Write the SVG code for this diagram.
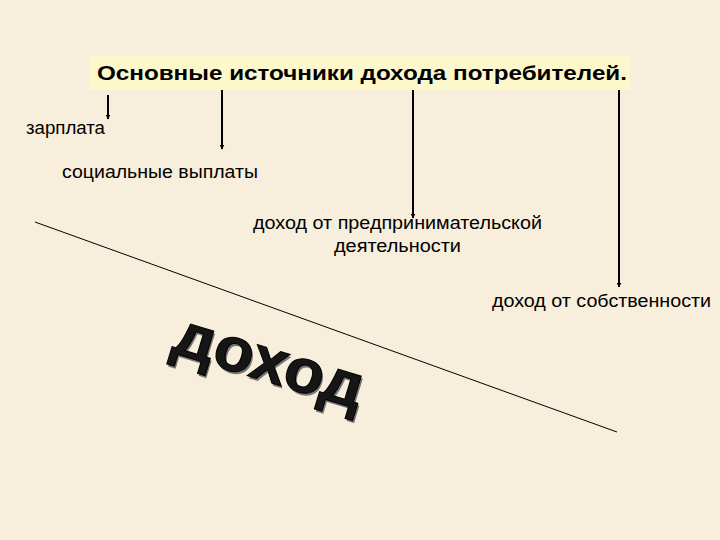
<svg xmlns="http://www.w3.org/2000/svg" width="720" height="540" viewBox="0 0 720 540">
<defs>
<style>
.t{font-family:"Liberation Sans",Arial,sans-serif;fill:#000;font-size:17.5px}
.title{font-weight:bold;font-size:20px}
.conn{stroke:#000;stroke-width:2;fill:none}
.big{font-family:"Liberation Sans",Arial,sans-serif;font-weight:bold;font-size:62px}
</style>
<marker id="ah" viewBox="0 0 10 10" refX="9" refY="5" markerWidth="5" markerHeight="5" orient="auto" markerUnits="userSpaceOnUse">
<path d="M0,0 L10,5 L0,10 z" fill="#000"/>
</marker>
</defs>
<rect x="0" y="0" width="720" height="540" fill="#F7EEDB"/>
<g id="title">
<rect x="90" y="56" width="540" height="34" fill="#FDF8CC"/>
<text class="t title" x="97" y="80" textLength="530" lengthAdjust="spacingAndGlyphs">Основные источники дохода потребителей.</text>
</g>
<g id="connectors">
<line class="conn" x1="108" y1="95" x2="108" y2="119" marker-end="url(#ah)"/>
<line class="conn" x1="222" y1="90" x2="222" y2="149" marker-end="url(#ah)"/>
<line class="conn" x1="413" y1="90" x2="413" y2="218" marker-end="url(#ah)"/>
<line class="conn" x1="619" y1="90" x2="619" y2="287" marker-end="url(#ah)"/>
</g>
<g id="n-zarplata"><text class="t" x="26" y="134" textLength="79" lengthAdjust="spacingAndGlyphs">зарплата</text></g>
<g id="n-social"><text class="t" x="62" y="178" textLength="196" lengthAdjust="spacingAndGlyphs">социальные выплаты</text></g>
<g id="n-business">
<text class="t" x="253" y="229" textLength="289" lengthAdjust="spacingAndGlyphs">доход от предпринимательской</text>
<text class="t" x="334" y="252" textLength="127" lengthAdjust="spacingAndGlyphs">деятельности</text>
</g>
<g id="n-property"><text class="t" x="492" y="307" textLength="219" lengthAdjust="spacingAndGlyphs">доход от собственности</text></g>
<g id="divider"><line x1="35" y1="222" x2="617" y2="432" stroke="#000" stroke-width="1"/></g>
<g id="word">
<text class="big" x="2" y="2" textLength="196" lengthAdjust="spacingAndGlyphs" transform="translate(170,352) rotate(17)" fill="#777">доход</text>
<text class="big" x="0" y="0" textLength="196" lengthAdjust="spacingAndGlyphs" transform="translate(170,352) rotate(17)" fill="#161616" stroke="#000" stroke-width="1">доход</text>
</g>
</svg>
